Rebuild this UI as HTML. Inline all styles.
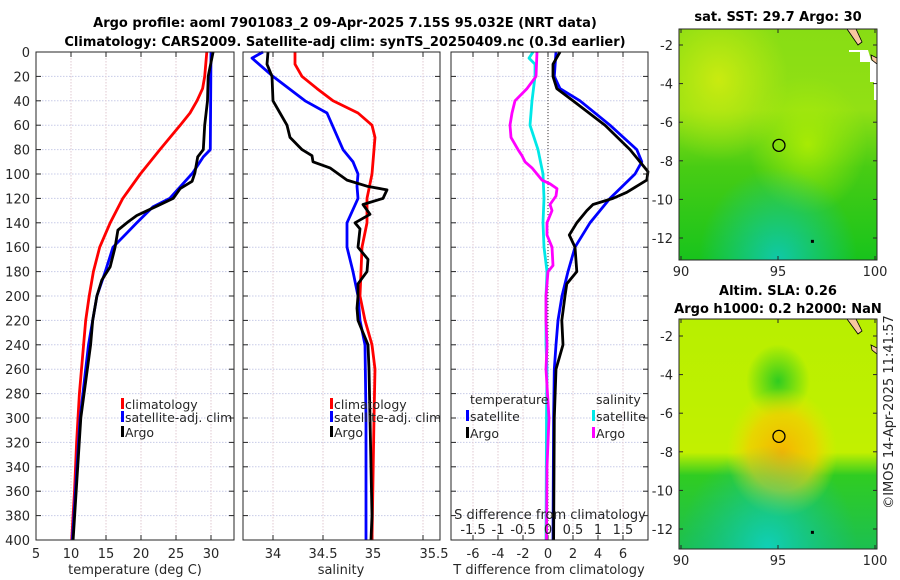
<!DOCTYPE html>
<html><head><meta charset="utf-8"><style>
body{margin:0;background:#fff;}
svg{display:block;font-family:"DejaVu Sans","Liberation Sans",sans-serif;}
text{fill:#262626;font-size:13px;}
.b{font-weight:bold;fill:#000;}
.lg{font-size:12.5px;}
</style></head><body>
<svg id="s" width="900" height="580" viewBox="0 0 900 580" xmlns="http://www.w3.org/2000/svg">
<defs>
<linearGradient id="g1" x1="0" y1="0" x2="0" y2="1">
<stop offset="0" stop-color="#88dd14"/><stop offset="0.35" stop-color="#92e014"/><stop offset="0.6" stop-color="#48cc14"/><stop offset="1" stop-color="#18c41c"/></linearGradient>
<radialGradient id="g1y" cx="0.2" cy="0.22" r="0.35"><stop offset="0" stop-color="#d0ec10" stop-opacity="0.9"/><stop offset="1" stop-color="#c8ec10" stop-opacity="0"/></radialGradient>
<radialGradient id="g1c" cx="0.65" cy="0.5" r="0.3"><stop offset="0" stop-color="#b8f000" stop-opacity="0.8"/><stop offset="1" stop-color="#b0ee08" stop-opacity="0"/></radialGradient>
<radialGradient id="g1t" cx="0.5" cy="1" r="0.4"><stop offset="0" stop-color="#10c8a8"/><stop offset="1" stop-color="#10c8a8" stop-opacity="0"/></radialGradient>
<linearGradient id="g2" x1="0" y1="0" x2="0" y2="1">
<stop offset="0" stop-color="#b8ef00"/><stop offset="0.58" stop-color="#c2f000"/><stop offset="0.68" stop-color="#30cc22"/><stop offset="1" stop-color="#1cc050"/></linearGradient>
<radialGradient id="g2o" cx="0.52" cy="0.58" r="0.28"><stop offset="0" stop-color="#f5b400"/><stop offset="0.6" stop-color="#f0d000" stop-opacity="0.8"/><stop offset="1" stop-color="#e8e800" stop-opacity="0"/></radialGradient>
<radialGradient id="g2g" cx="0.5" cy="0.27" r="0.16"><stop offset="0" stop-color="#30cc20"/><stop offset="1" stop-color="#30cc20" stop-opacity="0"/></radialGradient>
<radialGradient id="g2t" cx="0.45" cy="1" r="0.45"><stop offset="0" stop-color="#10d0b8"/><stop offset="1" stop-color="#10c0a0" stop-opacity="0"/></radialGradient>
</defs>
<g id="root"></g>
</svg>
<script>
// ---- data ----
const depths_tclim=[0,20,30,40,50,60,80,100,120,140,160,180,200,220,240,280,320,360,400];
const temp_clim=[29.4,29.1,28.8,28.0,27.0,25.6,22.7,19.9,17.4,15.6,14.1,13.2,12.6,12.1,11.8,11.2,10.8,10.5,10.1];
const depths_tsat=[0,80,86,99,120,127,140,160,180,200,220,240,300,400];
const temp_sat=[30.0,29.9,28.9,27.4,24.1,21.7,19.4,16.0,14.9,13.7,13.1,12.5,11.3,10.2];
const depths_targo=[0,20,40,60,80,86,99,106,112,120,126,134,139,146,160,176,187,200,220,240,300,400];
const temp_argo=[30.3,29.6,29.5,29.1,28.9,28.1,27.7,27.3,25.6,24.6,22.4,19.4,18.2,16.7,16.3,15.6,14.4,13.7,13.1,12.8,11.4,10.3];
const depths_sclim=[0,10,20,30,40,50,60,70,100,120,140,160,200,220,240,260,300,400];
const sal_clim=[34.22,34.22,34.29,34.44,34.6,34.85,34.99,35.02,34.99,34.94,34.94,34.89,34.87,34.92,34.99,35.02,35.01,34.99];
const depths_ssat=[0,5,20,40,50,80,90,100,110,120,140,160,180,200,220,240,300,400];
const sal_sat=[33.9,33.79,34.0,34.32,34.54,34.7,34.8,34.85,34.84,34.85,34.74,34.74,34.8,34.85,34.87,34.92,34.93,34.93];
const depths_sargo=[0,10,20,40,50,60,70,80,85,90,95,105,110,113,120,125,133,140,145,160,170,180,190,200,210,220,240,260,300,340,380,400];
const sal_argo=[33.95,33.94,33.99,34.0,34.07,34.14,34.17,34.29,34.39,34.4,34.57,34.74,34.94,35.14,35.1,34.9,34.97,34.82,34.87,34.85,34.95,34.94,34.85,34.85,34.84,34.85,34.95,34.96,34.97,34.98,34.99,34.98];
const depths_dt=[0,20,30,40,60,80,90,100,120,140,160,180,200,220,240,260,300,400];
const dT_sat=[0.64,0.5,0.96,2.56,4.96,7.1,7.5,6.96,4.96,3.36,2.16,1.6,1.12,0.8,0.64,0.5,0.45,0.4];
const depths_dta=[0,10,20,30,40,60,80,90,98,105,110,115,120,125,130,140,150,160,180,190,200,220,240,260,300,400];
const dT_argo=[0.96,0.4,0.4,0.7,2.0,4.56,6.56,7.36,8.0,7.9,7.1,6.3,5.2,3.6,3.1,2.3,1.7,2.16,2.3,1.5,1.36,1.1,1.2,0.64,0.5,0.45];
const depths_ds=[0,5,10,20,40,60,80,100,120,140,160,180,200,240,260,300,400];
const dS_sat=[-0.3,-0.38,-0.26,-0.26,-0.32,-0.36,-0.2,-0.1,-0.08,-0.1,-0.08,-0.02,-0.04,-0.04,-0.02,-0.03,-0.04];
const depths_dsa=[0,10,20,30,40,50,60,70,80,85,90,95,100,105,108,112,118,125,130,140,150,160,175,180,200,220,240,260,300,340,400];
const dS_argo=[-0.22,-0.23,-0.24,-0.42,-0.66,-0.72,-0.76,-0.74,-0.6,-0.52,-0.46,-0.32,-0.22,-0.12,0.04,0.18,0.16,0.04,0.08,-0.02,-0.02,0.08,0.1,0,-0.04,-0.04,-0.02,-0.04,0.02,-0.02,-0.03];
const depthTicks=[0,20,40,60,80,100,120,140,160,180,200,220,240,260,280,300,320,340,360,380,400];
const tTicks=[5,10,15,20,25,30];
const sTicks=[34,34.5,35];
const dtTicks=[-6,-4,-2,0,2,4,6];
const dsTicks=[-1.5,-1,-0.5,0,0.5,1,1.5];
const lonTicks=[90,95,100];
const latTicks=[-2,-4,-6,-8,-10,-12];
const argoLon=95.05, argoLat=-7.2;

// ---- scales ----
const Y0=52,Y1=540;
const yD=d=>Y0+(d/400)*(Y1-Y0);
const xT=t=>36+(t-5)*7;
const xS=s=>273+(s-34)*100;
const xDT=t=>548+t*12.5;
const xDS=s=>548+s*50;
const lonX=l=>681+(l-90)*19.4;
const latY1=l=>45+(-2-l)*19.3;
const latY2=l=>336+(-2-l)*19.3;

const NS='http://www.w3.org/2000/svg';
const root=document.getElementById('root');
function el(tag,attrs,parent){const e=document.createElementNS(NS,tag);for(const k in attrs)e.setAttribute(k,attrs[k]);(parent||root).appendChild(e);return e;}
function txt(x,y,s,anchor,cls,parent){const t=el('text',{x:x,y:y,'text-anchor':anchor||'middle'},parent);if(cls)t.setAttribute('class',cls);t.textContent=s;return t;}

const panels=[{x0:36,x1:234,name:'temperature-panel'},{x0:243,x1:440,name:'salinity-panel'},{x0:451,x1:648,name:'difference-panel'}];
panels.forEach((p,i)=>{
  const g=el('g',{});
  
  
  el('rect',{x:p.x0,y:Y0,width:p.x1-p.x0,height:Y1-Y0,fill:'#fff'},g);
  depthTicks.forEach(d=>{
    if(d>0&&d<400) el('line',{x1:p.x0,x2:p.x1,y1:yD(d),y2:yD(d),stroke:'#c8cce8','stroke-dasharray':'1.5,1.5','stroke-width':1},g);
    el('line',{x1:p.x0,x2:p.x0+5,y1:yD(d),y2:yD(d),stroke:'#262626'},g);
    el('line',{x1:p.x1-5,x2:p.x1,y1:yD(d),y2:yD(d),stroke:'#262626'},g);
  });
  p.g=g;
});
depthTicks.forEach(d=>{const t=txt(30,yD(d)+5,String(d),'end');});
function xgrid(p,ticks,f){
  ticks.forEach(v=>{const x=f(v);
    if(x>p.x0+1&&x<p.x1-1) el('line',{x1:x,x2:x,y1:Y0,y2:Y1,stroke:'#e0c8d0','stroke-dasharray':'1.5,1.5'},p.g);
    el('line',{x1:x,x2:x,y1:Y1,y2:Y1-5,stroke:'#262626'},p.g);
    el('line',{x1:x,x2:x,y1:Y0,y2:Y0+5,stroke:'#262626'},p.g);
  });
}
xgrid(panels[0],tTicks.concat([35]),xT);tTicks.forEach(v=>{const t=txt(xT(v),558,String(v));});
xgrid(panels[1],sTicks.concat([35.5]),xS);sTicks.forEach(v=>{const t=txt(xS(v),558,String(v));});
txt(434,558,'35.5');
xgrid(panels[2],dtTicks,xDT);dtTicks.forEach(v=>{const t=txt(xDT(v),558,String(v));});
dsTicks.forEach(v=>{const t=txt(xDS(v),534,String(v));});
el('line',{x1:548,x2:548,y1:Y0,y2:Y1,stroke:'#333','stroke-dasharray':'1,2'},panels[2].g);

function line(ds,vs,f,color,name,g){
  const pts=ds.map((d,i)=>f(vs[i]).toFixed(1)+','+yD(d).toFixed(1)).join(' ');
  const pl=el('polyline',{points:pts,fill:'none',stroke:color,'stroke-width':2.8,'stroke-linejoin':'round'},g);
  
  
}
line(depths_tclim,temp_clim,xT,'#ff0000','temp-climatology-line',panels[0].g);
line(depths_tsat,temp_sat,xT,'#0000ff','temp-satellite-line',panels[0].g);
line(depths_targo,temp_argo,xT,'#000000','temp-argo-line',panels[0].g);
line(depths_sclim,sal_clim,xS,'#ff0000','sal-climatology-line',panels[1].g);
line(depths_ssat,sal_sat,xS,'#0000ff','sal-satellite-line',panels[1].g);
line(depths_sargo,sal_argo,xS,'#000000','sal-argo-line',panels[1].g);
line(depths_ds,dS_sat,xDS,'#00e8e8','ds-satellite-line',panels[2].g);
line(depths_dsa,dS_argo,xDS,'#ff00ff','ds-argo-line',panels[2].g);
line(depths_dt,dT_sat,xDT,'#0000ff','dt-satellite-line',panels[2].g);
line(depths_dta,dT_argo,xDT,'#000000','dt-argo-line',panels[2].g);
panels.forEach(p=>el('rect',{x:p.x0,y:Y0,width:p.x1-p.x0,height:Y1-Y0,fill:'none',stroke:'#262626','stroke-width':1},p.g));

function leg(x,y,color,label,name){
  const g=el('g',{});
  
  
  el('rect',{x:x,y:y-11,width:3,height:11,fill:color},g);
  txt(x+4,y,label,'start','lg',g);
}
leg(121,409,'#ff0000','climatology','legend-climatology');
leg(121,422,'#0000ff','satellite-adj. clim','legend-satellite-adj');
leg(121,437,'#000000','Argo','legend-argo');
leg(330,409,'#ff0000','climatology','legend-climatology-sal');
leg(330,422,'#0000ff','satellite-adj. clim','legend-satellite-adj-sal');
leg(330,437,'#000000','Argo','legend-argo-sal');
txt(470,404,'temperature','start','lg');
txt(596,404,'salinity','start','lg');
leg(466,421,'#0000ff','satellite','legend-dt-satellite');
leg(466,438,'#000000','Argo','legend-dt-argo');
leg(592,421,'#00e8e8','satellite','legend-ds-satellite');
leg(592,438,'#ff00ff','Argo','legend-ds-argo');
txt(135,574,'temperature (deg C)');
txt(341,574,'salinity');
txt(549,574,'T difference from climatology');
txt(550,519,'S difference from climatology');
txt(345,27,'Argo profile: aoml 7901083_2 09-Apr-2025 7.15S 95.032E (NRT data)','middle','b');
txt(345,46,'Climatology: CARS2009. Satellite-adj clim: synTS_20250409.nc (0.3d earlier)','middle','b');

function map(y0,y1,fills,name){
  const g=el('g',{});
  
  
  fills.forEach(f=>el('rect',{x:679,y:y0,width:198,height:y1-y0,fill:f},g));
  return g;
}
const m1=map(29,260,['url(#g1)','url(#g1y)','url(#g1c)','url(#g1t)'],'sst-map');
el('path',{d:'M849,52 L860,52 L860,62 L870,62 L870,82 L874,82 L874,100 L877,100 L877,64 L871,60 L868,50 L849,50Z',fill:'#fff'},m1);
el('path',{d:'M847,29 L856,29 L862,42 L858,45 Z',fill:'#f8c8a0',stroke:'#000','stroke-width':0.8},m1);
el('path',{d:'M871,55 L877,58 L877,64 L872,60 Z',fill:'#f8c8a0',stroke:'#000','stroke-width':0.8},m1);
const m2=map(319,549,['url(#g2)','url(#g2g)','url(#g2o)','url(#g2t)'],'sla-map');
el('path',{d:'M847,319 L856,319 L862,331 L858,334 Z',fill:'#f8c8a0',stroke:'#000','stroke-width':0.8},m2);
el('path',{d:'M871,345 L877,348 L877,354 L872,350 Z',fill:'#f8c8a0',stroke:'#000','stroke-width':0.8},m2);
[[m1,latY1,29,260],[m2,latY2,319,549]].forEach(([g,ly,y0,y1])=>{
  el('rect',{x:679,y:y0,width:198,height:y1-y0,fill:'none',stroke:'#262626'},g);
  latTicks.forEach(l=>{const y=ly(l);el('line',{x1:679,x2:683,y1:y,y2:y,stroke:'#262626'},g);el('line',{x1:873,x2:877,y1:y,y2:y,stroke:'#262626'},g);txt(673,y+5,String(l),'end',null,g);});
  lonTicks.forEach(l=>{const x=lonX(l);el('line',{x1:x,x2:x,y1:y1,y2:y1-4,stroke:'#262626'},g);el('line',{x1:x,x2:x,y1:y0,y2:y0+4,stroke:'#262626'},g);txt(x,y1+16,String(l),'middle',null,g);});
  const c=el('circle',{cx:lonX(argoLon),cy:ly(argoLat),r:6,fill:'none',stroke:'#000','stroke-width':1.3},g);
  
  
  el('rect',{x:lonX(96.8)-2,y:ly(-12.2)-2,width:3,height:3,fill:'#000'},g);
});
txt(778,21,'sat. SST: 29.7 Argo: 30','middle','b');
txt(778,295,'Altim. SLA: 0.26','middle','b');
txt(778,313,'Argo h1000: 0.2 h2000: NaN','middle','b');
const cr=txt(0,0,'©IMOS 14-Apr-2025 11:41:57','middle');
cr.setAttribute('transform','translate(893,412) rotate(-90)');


</script>
</body></html>
